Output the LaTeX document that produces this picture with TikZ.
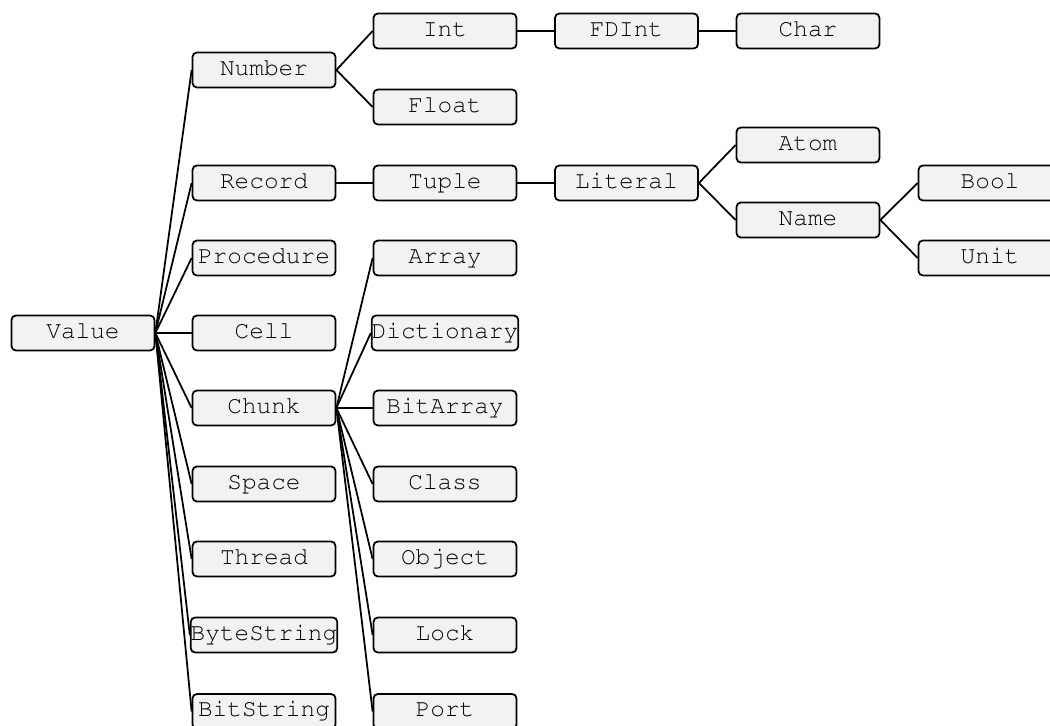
\documentclass[tikz,border=0pt]{standalone}
\usepackage[T1]{fontenc}
\usepackage{courier}
\usepackage{tikz}
\definecolor{boxfill}{HTML}{F2F2F2}
\tikzset{cls/.style={draw=black, fill=boxfill, rounded corners=2.5pt, line width=1pt,
    minimum width=2.86cm, minimum height=0.7cm, inner sep=0pt,
    text height=9pt, text depth=2.8pt,
    font=\ttfamily\fontsize{13.9}{16}\selectfont}}
\tikzset{edge/.style={line width=1pt}}

\begin{document}
\begin{tikzpicture}
\useasboundingbox (0,0) rectangle (21,14.52);
\node[cls] (value) at (1.66,7.86) {Value};

\node[cls] (number) at (5.28,13.12) {Number};
\node[cls] (record) at (5.28,10.86) {Record};
\node[cls] (procedure) at (5.28,9.36) {Procedure};
\node[cls] (cell) at (5.28,7.86) {Cell};
\node[cls] (chunk) at (5.28,6.36) {Chunk};
\node[cls] (space) at (5.28,4.84) {Space};
\node[cls] (thread) at (5.28,3.34) {Thread};
\node[cls] (bytestring) at (5.28,1.82) {ByteString};
\node[cls] (bitstring) at (5.28,0.29) {BitString};

\node[cls] (int) at (8.9,13.9) {Int};
\node[cls] (float) at (8.9,12.38) {Float};
\node[cls] (tuple) at (8.9,10.86) {Tuple};
\node[cls] (array) at (8.9,9.36) {Array};
\node[cls] (dictionary) at (8.9,7.86) {Dictionary};
\node[cls] (bitarray) at (8.9,6.36) {BitArray};
\node[cls] (class) at (8.9,4.84) {Class};
\node[cls] (object) at (8.9,3.34) {Object};
\node[cls] (lock) at (8.9,1.82) {Lock};
\node[cls] (port) at (8.9,0.29) {Port};

\node[cls] (fdint) at (12.53,13.9) {FDInt};
\node[cls] (literal) at (12.53,10.86) {Literal};

\node[cls] (char) at (16.16,13.9) {Char};
\node[cls] (atom) at (16.16,11.62) {Atom};
\node[cls] (name) at (16.16,10.12) {Name};

\node[cls] (bool) at (19.8,10.86) {Bool};
\node[cls] (unit) at (19.8,9.36) {Unit};

\draw[edge] (value.east) to (number.west);
\draw[edge] (value.east) to (record.west);
\draw[edge] (value.east) to (procedure.west);
\draw[edge] (value.east) to (cell.west);
\draw[edge] (value.east) to (chunk.west);
\draw[edge] (value.east) to (space.west);
\draw[edge] (value.east) to (thread.west);
\draw[edge] (value.east) to (bytestring.west);
\draw[edge] (value.east) to (bitstring.west);

\draw[edge] (number.east) to (int.west);
\draw[edge] (number.east) to (float.west);
\draw[edge] (int.east) to (fdint.west);
\draw[edge] (fdint.east) to (char.west);

\draw[edge] (record.east) to (tuple.west);
\draw[edge] (tuple.east) to (literal.west);
\draw[edge] (literal.east) to (atom.west);
\draw[edge] (literal.east) to (name.west);
\draw[edge] (name.east) to (bool.west);
\draw[edge] (name.east) to (unit.west);

\draw[edge] (chunk.east) to (array.west);
\draw[edge] (chunk.east) to (dictionary.west);
\draw[edge] (chunk.east) to (bitarray.west);
\draw[edge] (chunk.east) to (class.west);
\draw[edge] (chunk.east) to (object.west);
\draw[edge] (chunk.east) to (lock.west);
\draw[edge] (chunk.east) to (port.west);
\end{tikzpicture}
\end{document}
